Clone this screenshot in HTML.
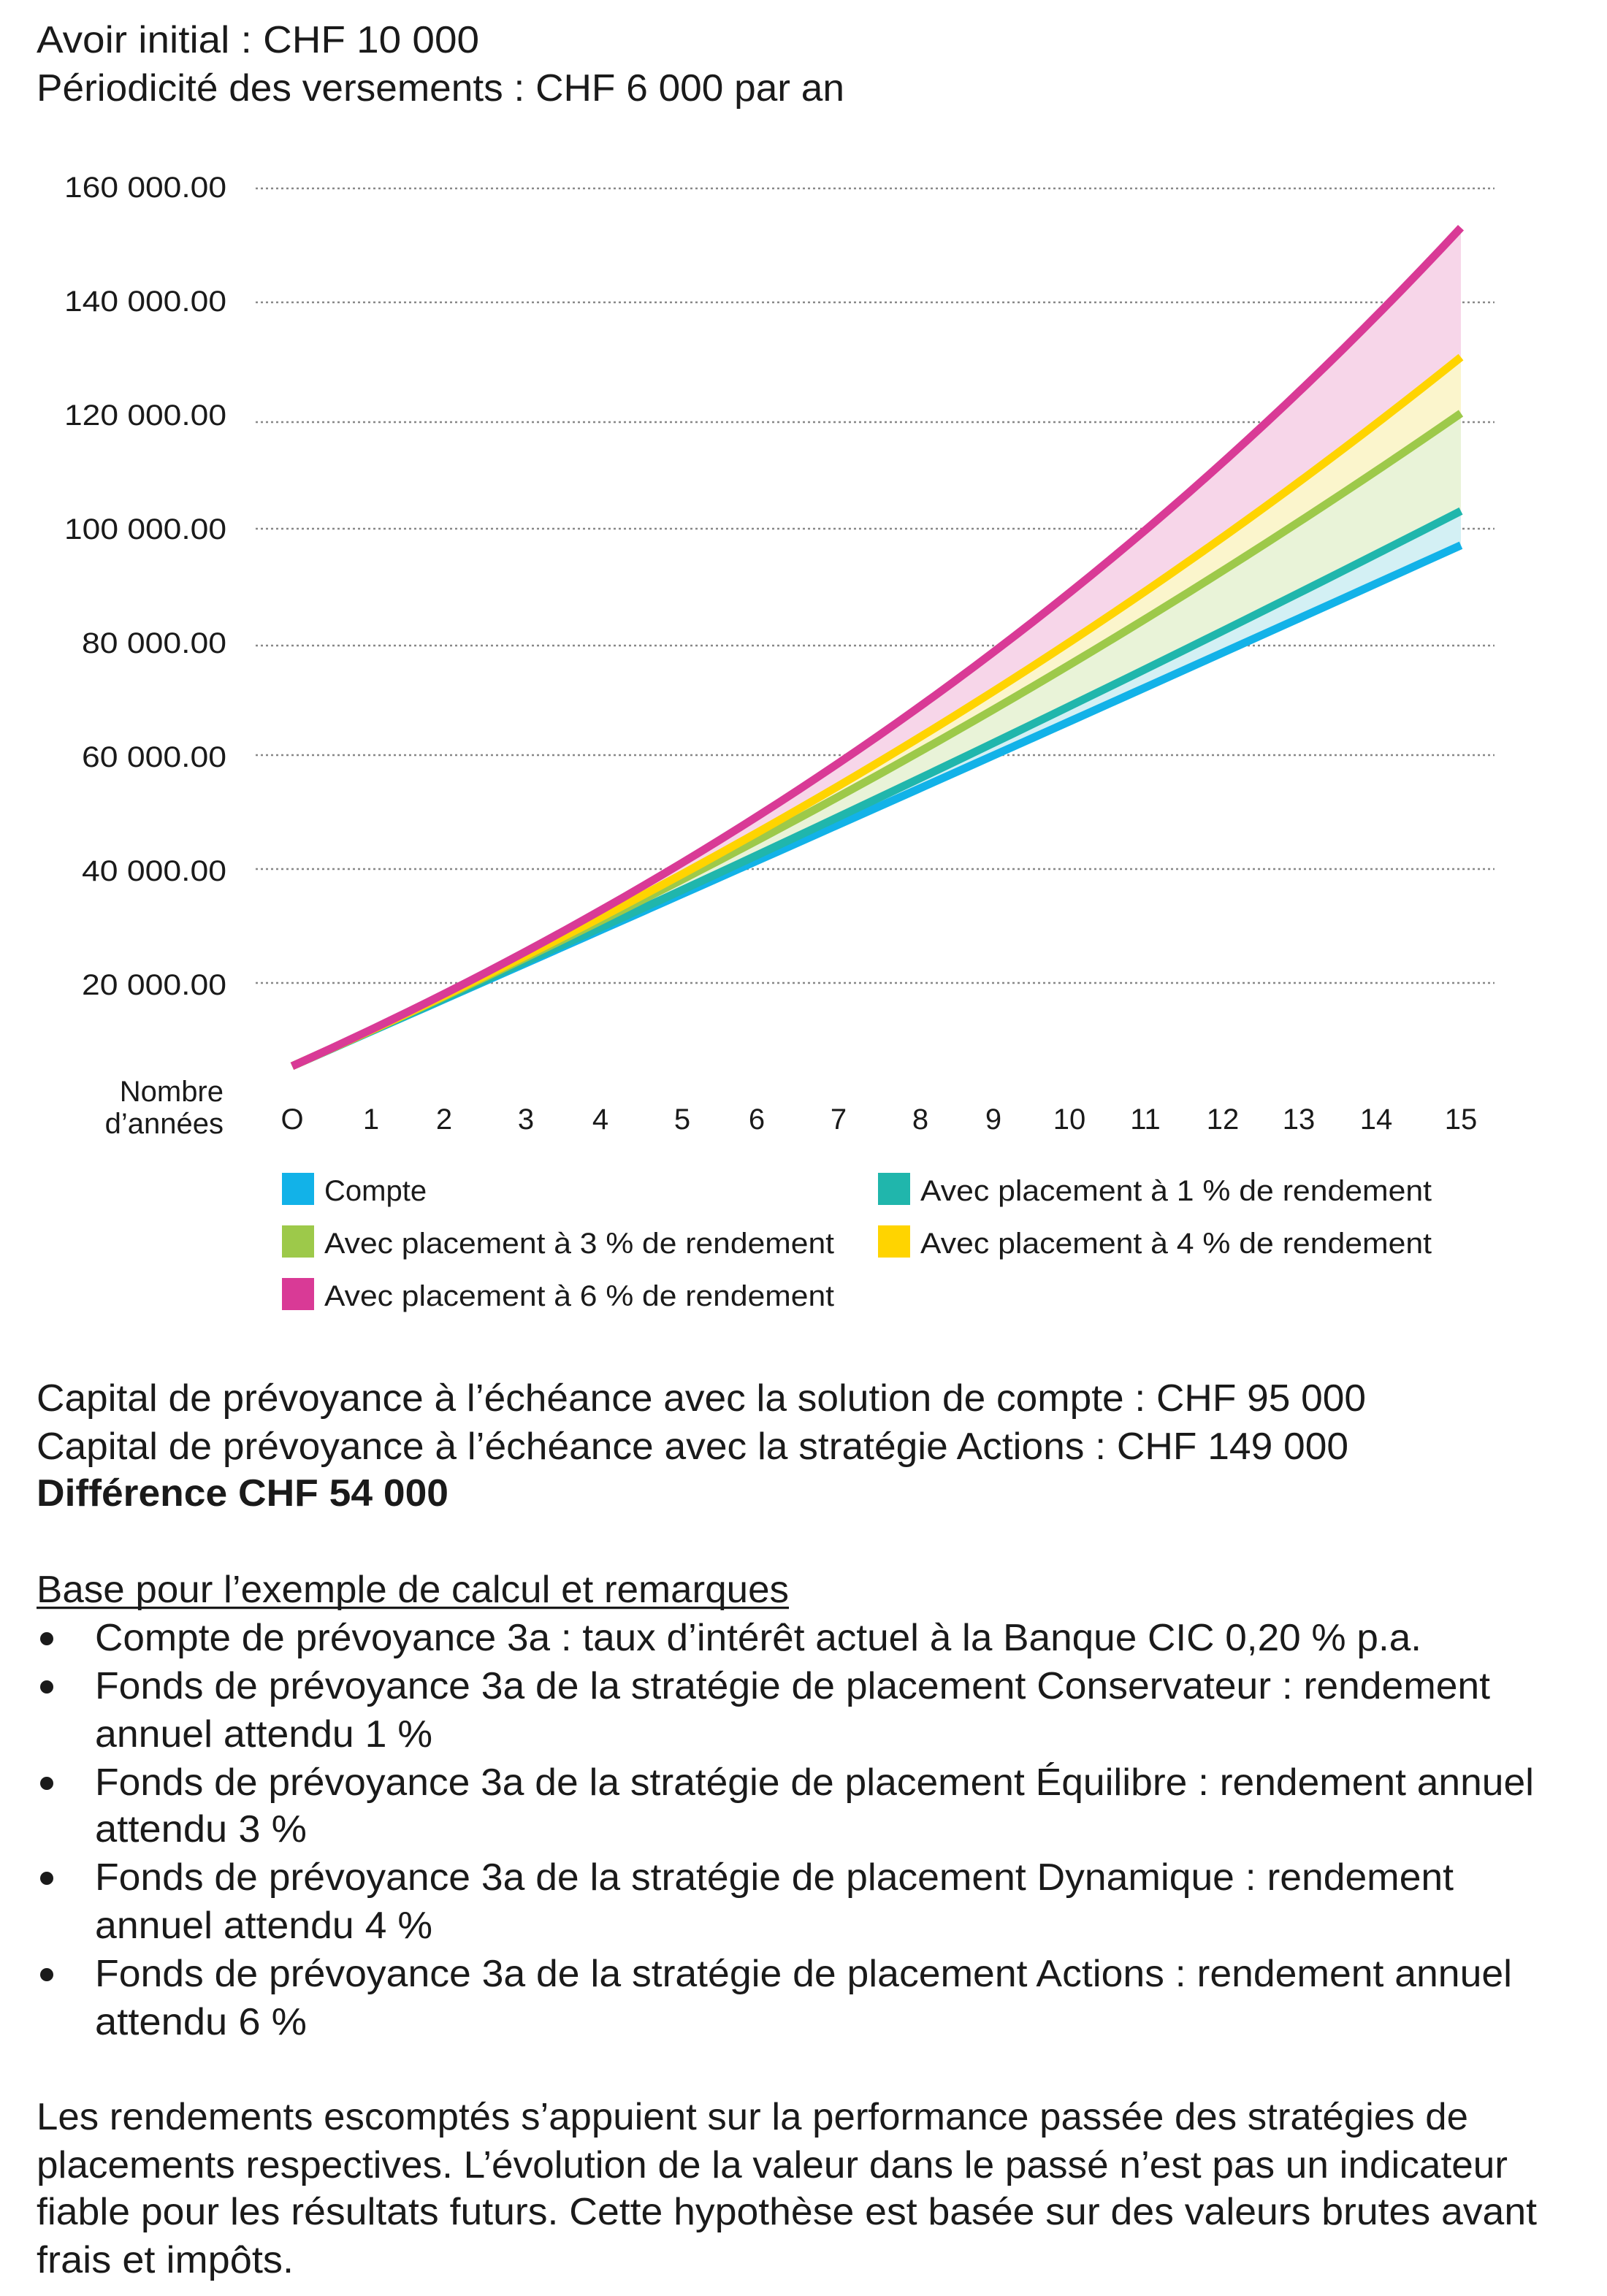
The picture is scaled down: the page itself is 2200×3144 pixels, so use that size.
<!DOCTYPE html>
<html><head><meta charset="utf-8">
<style>
html,body{margin:0;padding:0;background:#fff;}
svg{display:block;}
text{font-family:"Liberation Sans",sans-serif;fill:#1a1a1a;}
</style></head>
<body>
<svg id="s" width="2200" height="3144" viewBox="0 0 1100 1572" xmlns="http://www.w3.org/2000/svg">
<rect width="1100" height="1572" fill="#fff"/>
<g font-size="26">
<text x="25" y="36" textLength="303" lengthAdjust="spacingAndGlyphs">Avoir initial : CHF 10 000</text>
<text x="25" y="69" textLength="553" lengthAdjust="spacingAndGlyphs">Périodicité des versements : CHF 6 000 par an</text>
</g>
<g stroke="#888" stroke-width="1.2" stroke-dasharray="1.5 2">
<line x1="175" x2="1023" y1="129" y2="129"/>
<line x1="175" x2="1023" y1="207" y2="207"/>
<line x1="175" x2="1023" y1="289" y2="289"/>
<line x1="175" x2="1023" y1="362" y2="362"/>
<line x1="175" x2="1023" y1="442" y2="442"/>
<line x1="175" x2="1023" y1="517" y2="517"/>
<line x1="175" x2="1023" y1="595" y2="595"/>
<line x1="175" x2="1023" y1="673" y2="673"/>
</g>
<g font-size="20" text-anchor="end">
<text x="155" y="135" textLength="111" lengthAdjust="spacingAndGlyphs">160 000.00</text>
<text x="155" y="213" textLength="111" lengthAdjust="spacingAndGlyphs">140 000.00</text>
<text x="155" y="291" textLength="111" lengthAdjust="spacingAndGlyphs">120 000.00</text>
<text x="155" y="369" textLength="111" lengthAdjust="spacingAndGlyphs">100 000.00</text>
<text x="155" y="447" textLength="99" lengthAdjust="spacingAndGlyphs">80 000.00</text>
<text x="155" y="525" textLength="99" lengthAdjust="spacingAndGlyphs">60 000.00</text>
<text x="155" y="603" textLength="99" lengthAdjust="spacingAndGlyphs">40 000.00</text>
<text x="155" y="681" textLength="99" lengthAdjust="spacingAndGlyphs">20 000.00</text>
<text x="153" y="754">Nombre</text>
<text x="153" y="776">d’années</text>
</g>
<g id="plot"></g>
<g font-size="20" text-anchor="middle" id="xl"></g>
<g font-size="20">
<rect x="193" y="803" width="22" height="22" fill="#12b2e8"/>
<text x="222" y="822">Compte</text>
<rect x="601" y="803" width="22" height="22" fill="#20b6ac"/>
<text x="630" y="822" textLength="350" lengthAdjust="spacingAndGlyphs">Avec placement à 1 % de rendement</text>
<rect x="193" y="839" width="22" height="22" fill="#9dc94a"/>
<text x="222" y="858" textLength="349" lengthAdjust="spacingAndGlyphs">Avec placement à 3 % de rendement</text>
<rect x="601" y="839" width="22" height="22" fill="#ffd400"/>
<text x="630" y="858" textLength="350" lengthAdjust="spacingAndGlyphs">Avec placement à 4 % de rendement</text>
<rect x="193" y="875" width="22" height="22" fill="#d93a96"/>
<text x="222" y="894" textLength="349" lengthAdjust="spacingAndGlyphs">Avec placement à 6 % de rendement</text>
</g>
<g font-size="26">
<text x="25" y="966" textLength="910" lengthAdjust="spacingAndGlyphs">Capital de prévoyance à l’échéance avec la solution de compte : CHF 95 000</text>
<text x="25" y="999" textLength="898" lengthAdjust="spacingAndGlyphs">Capital de prévoyance à l’échéance avec la stratégie Actions : CHF 149 000</text>
<text x="25" y="1031" textLength="282" lengthAdjust="spacingAndGlyphs" font-weight="bold">Différence CHF 54 000</text>
<text x="25" y="1097" textLength="515" lengthAdjust="spacingAndGlyphs">Base pour l’exemple de calcul et remarques</text>
<rect x="25" y="1100" width="515" height="1.6" fill="#1a1a1a"/>
<text x="65" y="1130" textLength="908" lengthAdjust="spacingAndGlyphs">Compte de prévoyance 3a : taux d’intérêt actuel à la Banque CIC 0,20 % p.a.</text>
<text x="65" y="1163" textLength="955" lengthAdjust="spacingAndGlyphs">Fonds de prévoyance 3a de la stratégie de placement Conservateur : rendement</text>
<text x="65" y="1196" textLength="231" lengthAdjust="spacingAndGlyphs">annuel attendu 1 %</text>
<text x="65" y="1229" textLength="985" lengthAdjust="spacingAndGlyphs">Fonds de prévoyance 3a de la stratégie de placement Équilibre : rendement annuel</text>
<text x="65" y="1261" textLength="145" lengthAdjust="spacingAndGlyphs">attendu 3 %</text>
<text x="65" y="1294" textLength="930" lengthAdjust="spacingAndGlyphs">Fonds de prévoyance 3a de la stratégie de placement Dynamique : rendement</text>
<text x="65" y="1327" textLength="231" lengthAdjust="spacingAndGlyphs">annuel attendu 4 %</text>
<text x="65" y="1360" textLength="970" lengthAdjust="spacingAndGlyphs">Fonds de prévoyance 3a de la stratégie de placement Actions : rendement annuel</text>
<text x="65" y="1393" textLength="145" lengthAdjust="spacingAndGlyphs">attendu 6 %</text>
<circle cx="32" cy="1122" r="4.5" fill="#1a1a1a"/>
<circle cx="32" cy="1155" r="4.5" fill="#1a1a1a"/>
<circle cx="32" cy="1221" r="4.5" fill="#1a1a1a"/>
<circle cx="32" cy="1286" r="4.5" fill="#1a1a1a"/>
<circle cx="32" cy="1352" r="4.5" fill="#1a1a1a"/>
<text x="25" y="1458" textLength="980" lengthAdjust="spacingAndGlyphs">Les rendements escomptés s’appuient sur la performance passée des stratégies de</text>
<text x="25" y="1491" textLength="1007" lengthAdjust="spacingAndGlyphs">placements respectives. L’évolution de la valeur dans le passé n’est pas un indicateur</text>
<text x="25" y="1523" textLength="1027" lengthAdjust="spacingAndGlyphs">fiable pour les résultats futurs. Cette hypothèse est basée sur des valeurs brutes avant</text>
<text x="25" y="1556" textLength="176" lengthAdjust="spacingAndGlyphs">frais et impôts.</text>
</g>
</svg>
<script>
(function(){
var NS="http://www.w3.org/2000/svg";
var xs=[200,254,304,360,411,467,518,574,630,680,732,784,837,889,942,1000];
var xl=document.getElementById('xl');
xs.forEach(function(x,i){var t=document.createElementNS(NS,'text');t.setAttribute('x',x);t.setAttribute('y',773);t.textContent=i===0?'O':String(i);xl.appendChild(t);});
function X(t){return 200+t*800/15;}
function Y(v){return 751-v/20000*78;}
function val(r,t){var g=Math.pow(1+r,t);return 5400*g+6000*(g-1)/r;}
var rates=[0.002,0.01,0.03,0.04,0.06];
var cols=["#12b2e8","#20b6ac","#9dc94a","#ffd400","#d93a96"];
var fills=["#d3f0f4","#e9f3d8","#fbf5cc","#f7d6e9"];
var pts=rates.map(function(r){var a=[];for(var i=0;i<=60;i++){var t=i/4;a.push([X(t),Y(val(r,t))]);}return a;});
var plot=document.getElementById('plot');
function s(a){return a.map(function(p){return p[0].toFixed(2)+','+p[1].toFixed(2);}).join(' ');}
for(var k=0;k<4;k++){var p=document.createElementNS(NS,'polygon');
p.setAttribute('points',s(pts[k])+' '+s(pts[k+1].slice().reverse()));p.setAttribute('fill',fills[k]);plot.appendChild(p);}
for(var k=0;k<5;k++){var l=document.createElementNS(NS,'polyline');
l.setAttribute('points',s(pts[k]));l.setAttribute('fill','none');l.setAttribute('stroke',cols[k]);l.setAttribute('stroke-width','5.5');l.setAttribute('stroke-linejoin','round');plot.appendChild(l);}
})();
</script>
</body></html>
